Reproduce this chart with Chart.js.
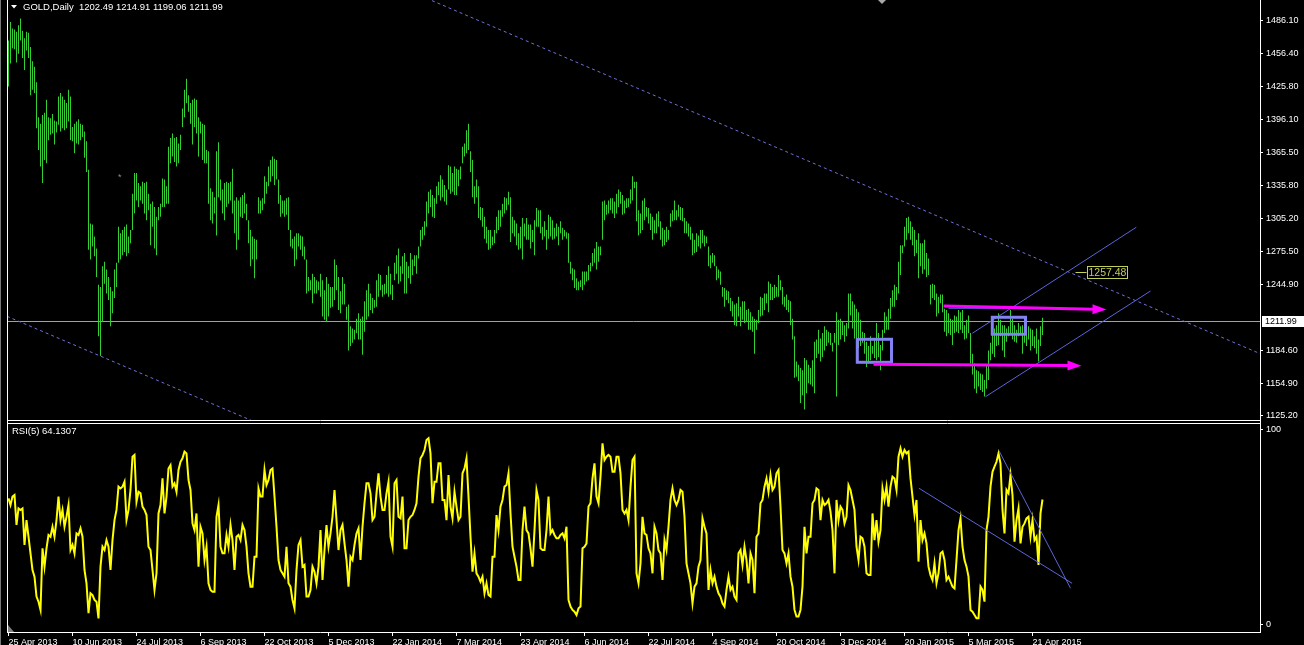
<!DOCTYPE html>
<html>
<head>
<meta charset="utf-8">
<title>GOLD, Daily</title>
<style>
  html, body { margin: 0; padding: 0; background: #000; }
  #wrap { position: relative; width: 1304px; height: 645px; overflow: hidden; background: #000; }
  #wrap canvas { position: absolute; left: 0; }
  #price { top: 0; }
  #osc { top: 421px; }
</style>
<script src="https://cdn.jsdelivr.net/npm/chart.js@4.4.1/dist/chart.umd.min.js"></script>
</head>
<body>
<div id="wrap">
  <canvas id="price" width="1304" height="421"></canvas>
  <canvas id="osc" width="1304" height="224"></canvas>
</div>
<script>
// ---- values (bar index 0 = 25 Apr 2013) ----
const dateLabels = ['25 Apr 2013', '10 Jun 2013', '24 Jul 2013', '6 Sep 2013', '22 Oct 2013', '5 Dec 2013',
  '22 Jan 2014', '7 Mar 2014', '23 Apr 2014', '6 Jun 2014', '22 Jul 2014', '4 Sep 2014', '20 Oct 2014',
  '3 Dec 2014', '20 Jan 2015', '5 Mar 2015', '21 Apr 2015']
const dateTickBars = [0, 32, 64, 96, 128, 160, 192, 224, 256, 288, 320, 352, 384, 416, 448, 480, 512]
const priceTicks = [1486.10, 1456.40, 1425.80, 1396.10, 1365.50, 1335.80, 1305.20, 1275.50, 1244.90, 1184.60, 1154.90, 1125.20]
const rsiTicks = [0, 100]
const lastQuote = [1202.49, 1214.91, 1199.06, 1211.99] // open high low close

const highs = [
  1468, 1485, 1479, 1478, 1476, 1482, 1488, 1477, 1470, 1476,
  1475, 1462, 1449, 1444, 1430, 1398, 1392, 1400, 1402, 1414,
  1398, 1397, 1401, 1395, 1394, 1417, 1420, 1417, 1414, 1411,
  1423, 1417, 1389, 1392, 1394, 1396, 1392, 1391, 1385, 1376,
  1350, 1301, 1300, 1289, 1278, 1245, 1243, 1262, 1266, 1259,
  1252, 1243, 1239, 1259, 1265, 1298, 1292, 1295, 1298, 1300,
  1289, 1295, 1328, 1347, 1347, 1338, 1335, 1339, 1338, 1339,
  1328, 1319, 1321, 1316, 1307, 1316, 1319, 1342, 1341, 1335,
  1371, 1379, 1383, 1379, 1380, 1374, 1382, 1406, 1423, 1433,
  1418, 1411, 1414, 1415, 1414, 1398, 1394, 1392, 1391, 1368,
  1367, 1333, 1330, 1325, 1367, 1375, 1341, 1332, 1338, 1339,
  1338, 1339, 1351, 1322, 1325, 1322, 1325, 1327, 1329, 1319,
  1304, 1295, 1289, 1287, 1286, 1325, 1322, 1324, 1344, 1339,
  1353, 1359, 1362, 1360, 1359, 1341, 1327, 1322, 1322, 1324,
  1325, 1295, 1287, 1289, 1292, 1292, 1290, 1289, 1280, 1268,
  1252, 1249, 1255, 1252, 1249, 1248, 1255, 1249, 1240, 1252,
  1246,
  1243, 1243, 1268, 1263, 1252, 1239, 1252, 1246, 1225, 1227,
  1207, 1205, 1204, 1214, 1219, 1214, 1216, 1230, 1240, 1246,
  1237, 1233, 1231, 1249, 1255, 1254, 1245, 1246, 1254, 1262,
  1255, 1245, 1265, 1272, 1278, 1262, 1271, 1274, 1266, 1262,
  1274, 1268, 1272, 1272, 1280, 1295, 1298, 1303, 1321, 1330,
  1332, 1327, 1324, 1335, 1339, 1345, 1341, 1336, 1332, 1354,
  1353, 1347, 1353, 1351, 1350, 1353, 1371, 1374, 1386, 1392,
  1367, 1359, 1335, 1341, 1335, 1316, 1315, 1307, 1298, 1295,
  1295, 1289, 1295, 1307, 1313, 1313, 1319, 1325, 1324, 1330,
  1325, 1307, 1304, 1301, 1292, 1298, 1306, 1301, 1306, 1300,
  1300, 1295, 1304, 1315, 1313, 1313, 1298, 1303, 1295, 1309,
  1307, 1304, 1297, 1301, 1298, 1303, 1297, 1295, 1293, 1292,
  1266, 1260, 1259, 1251, 1248, 1249, 1257, 1257, 1257, 1263,
  1265, 1274, 1278, 1284, 1280, 1280, 1321, 1322, 1318, 1322,
  1324, 1324, 1321, 1328, 1332, 1330, 1327, 1322, 1324, 1324,
  1332, 1344, 1339, 1339, 1313, 1310, 1322, 1324, 1316, 1315,
  1310, 1307, 1304, 1310, 1312, 1303, 1297, 1295, 1298, 1295,
  1310, 1313, 1322, 1313, 1318, 1316, 1315, 1306, 1303, 1301,
  1298, 1292, 1286, 1292, 1290, 1295, 1295, 1290, 1289, 1280,
  1272, 1274, 1272, 1262, 1259, 1257, 1243, 1242, 1240, 1239,
  1233, 1230, 1227, 1228, 1234, 1225, 1230, 1230, 1222, 1223,
  1220, 1216, 1214, 1213, 1222, 1234, 1233, 1237, 1237, 1248,
  1246, 1243, 1245, 1243, 1254, 1249, 1243, 1234, 1236, 1231,
  1230, 1214, 1198, 1175, 1172, 1169, 1167, 1178, 1176, 1172,
  1169, 1176, 1193, 1195, 1204, 1196, 1201, 1207, 1204, 1202,
  1201, 1192, 1201, 1220, 1213, 1214, 1211, 1208, 1210, 1237,
  1237, 1230, 1227, 1223, 1220, 1213, 1202, 1201, 1193, 1189,
  1198, 1189, 1196, 1210, 1201, 1190, 1204, 1220, 1216, 1223,
  1233, 1240, 1245, 1243, 1266, 1281, 1281, 1298, 1306, 1307,
  1303, 1298, 1295, 1286, 1292, 1283, 1283, 1286, 1274, 1269,
  1245, 1246, 1245, 1237, 1234, 1236, 1236, 1223, 1222, 1219,
  1214, 1213, 1217, 1216, 1222, 1220, 1222, 1208, 1213, 1217,
  1201, 1182, 1173, 1167, 1166, 1164, 1163, 1158, 1172, 1185,
  1192, 1199, 1205, 1208, 1219, 1213, 1208, 1208, 1205, 1207,
  1222, 1214, 1208, 1204, 1210, 1207, 1208, 1207, 1201, 1207,
  1205, 1204, 1198, 1205, 1195, 1207, 1214.91
]

const lows = [
  1426, 1447, 1461, 1460, 1448, 1456, 1468, 1452, 1441, 1459,
  1452, 1418, 1423, 1420, 1388, 1368, 1353, 1338, 1359, 1356,
  1377, 1382, 1383, 1373, 1384, 1391, 1385, 1388, 1386, 1388,
  1394, 1377, 1376, 1365, 1374, 1373, 1377, 1380, 1361, 1348,
  1277, 1268, 1280, 1271, 1252, 1198, 1180, 1211, 1246, 1237,
  1231, 1207, 1219, 1233, 1243, 1265, 1268, 1272, 1275, 1271,
  1274, 1283, 1295, 1310, 1322, 1316, 1322, 1319, 1310, 1304,
  1313, 1281, 1298, 1278, 1272, 1304, 1307, 1316, 1316, 1319,
  1319, 1356, 1362, 1357, 1353, 1356, 1368, 1389, 1398, 1411,
  1403, 1392, 1373, 1389, 1383, 1362, 1383, 1359, 1356, 1356,
  1319, 1304, 1301, 1310, 1290, 1325, 1322, 1310, 1304, 1316,
  1319, 1322, 1310, 1292, 1277, 1286, 1307, 1306, 1310, 1304,
  1283, 1262, 1268, 1251, 1268, 1310, 1310, 1313, 1319, 1328,
  1335, 1339, 1344, 1336, 1341, 1319, 1307, 1310, 1307, 1309,
  1295, 1280, 1278, 1262, 1268, 1280, 1277, 1271, 1268, 1237,
  1239, 1240, 1228, 1237, 1237, 1240, 1234, 1216, 1213, 1211,
  1216,
  1224, 1225, 1231, 1240, 1222, 1219, 1227, 1227, 1213, 1185,
  1189, 1192, 1195, 1201, 1195, 1195, 1181, 1202, 1213, 1216,
  1222, 1219, 1224, 1225, 1234, 1240, 1234, 1236, 1237, 1234,
  1236, 1231, 1249, 1255, 1246, 1248, 1255, 1237, 1237, 1251,
  1246, 1254, 1262, 1255, 1269, 1280, 1286, 1290, 1298, 1310,
  1316, 1307, 1306, 1319, 1327, 1322, 1325, 1321, 1318, 1332,
  1328, 1330, 1327, 1327, 1335, 1341, 1356, 1362, 1365, 1368,
  1348, 1325, 1319, 1325, 1306, 1304, 1298, 1287, 1283, 1277,
  1278, 1281, 1283, 1292, 1295, 1298, 1307, 1310, 1313, 1318,
  1284, 1292, 1289, 1281, 1277, 1278, 1268, 1289, 1286, 1286,
  1278, 1284, 1272, 1298, 1298, 1292, 1286, 1289, 1277, 1287,
  1289, 1286, 1287, 1289, 1281, 1292, 1286, 1289, 1287, 1265,
  1255, 1249, 1242, 1240, 1240, 1243, 1240, 1245, 1248, 1249,
  1257, 1262, 1265, 1259, 1266, 1272, 1286, 1304, 1309, 1310,
  1313, 1310, 1306, 1310, 1316, 1319, 1309, 1310, 1315, 1316,
  1319, 1322, 1333, 1303, 1290, 1292, 1295, 1304, 1307, 1301,
  1295, 1286, 1292, 1292, 1298, 1286, 1280, 1281, 1284, 1286,
  1298, 1303, 1304, 1304, 1307, 1304, 1303, 1292, 1292, 1289,
  1286, 1272, 1274, 1275, 1280, 1278, 1283, 1280, 1283, 1262,
  1260, 1265, 1262, 1249, 1251, 1245, 1234, 1225, 1231, 1228,
  1221, 1216, 1208, 1207, 1216, 1207, 1213, 1210, 1211, 1204,
  1204, 1202, 1182, 1204, 1210, 1216, 1217, 1222, 1228, 1220,
  1231, 1231, 1233, 1234, 1234, 1240, 1227, 1225, 1222, 1220,
  1208, 1195, 1160, 1161, 1157, 1137, 1144, 1131, 1146, 1155,
  1154, 1152, 1146, 1178, 1182, 1175, 1179, 1185, 1189, 1192,
  1190, 1184, 1192, 1143, 1190, 1195, 1199, 1193, 1198, 1205,
  1217, 1205, 1196, 1182, 1187, 1189, 1192, 1182, 1170, 1173,
  1176, 1182, 1178, 1176, 1179, 1167, 1185, 1201, 1204, 1204,
  1214, 1225, 1225, 1231, 1237, 1254, 1274, 1280, 1286, 1292,
  1286, 1281, 1271, 1274, 1251, 1262, 1255, 1259, 1252, 1254,
  1227, 1233, 1231, 1216, 1219, 1228, 1220, 1202, 1198, 1201,
  1199, 1190, 1201, 1202, 1201, 1204, 1201, 1195, 1196, 1201,
  1173, 1163, 1150, 1146, 1152, 1149, 1147, 1143, 1150, 1158,
  1176, 1182, 1179, 1189, 1190, 1198, 1185, 1179, 1193, 1198,
  1201, 1195, 1193, 1192, 1198, 1199, 1182, 1192, 1189, 1195,
  1185, 1189, 1187, 1182, 1175, 1189, 1199.06
]

const rsi = [
  64.7, 61.3, 65.6, 66.4, 51.1, 59.6, 58.8, 59.6, 40.9, 53.6,
  45.1, 36.6, 28.1, 24.7, 14.5, 11.9, 7.7, 39.2, 29.8, 39.2,
  46, 45.1, 50.2, 45.1, 53.6, 65.6, 53.6, 58.8, 50.2, 55.3,
  61.3, 38.3, 40.9, 36.6, 46.8, 46, 49.4, 45.1, 28.1, 21.3,
  6, 16.2, 15.3, 12.8, 11.9, 3.4, 29.8, 40, 38.3, 43.4,
  40, 28.1, 43.4, 53.6, 58.8, 70.7, 69.8, 70.7, 73.2, 53.6,
  58.8, 69, 86, 86.9, 63, 68.1, 67.3, 60.5, 58.8, 56.2,
  40, 38.3, 28.1, 17.9, 26.4, 57, 61.3, 74.9, 57, 65.6,
  80, 81.7, 70.7, 72.4, 68.1, 79.2, 83.4, 85.2, 88.6, 87.7,
  74.1, 69, 51.9, 48.5, 57, 29.8, 50.2, 46.8, 33.2, 40,
  21.3, 17.9, 17, 17, 55.3, 61.3, 40, 36.6, 36.6, 46,
  40, 51.1, 43.4, 28.1, 45.1, 46, 43.4, 51.1, 48.5, 40,
  26.4, 19.6, 19.6, 34.9, 34.9, 69.8, 65.6, 65.6, 79.2, 71.5,
  74.1, 79.2, 80, 65.6, 50.2, 33.2, 28.1, 26.4, 24.7, 40,
  21.3, 19.6, 12.8, 8.5, 28.1, 40.9, 43.4, 29.8, 30.7, 14.5,
  14.5, 17.9, 29.8, 27.2, 21.3, 29.8, 48.5, 23, 38.3, 51.1,
  40,
  46.8, 55.3, 69, 53.6, 38.3, 48.5, 51.1, 41.7, 33.2, 19.6,
  34.9, 33.2, 40.9, 46.8, 49.4, 33.2, 50.2, 62.2, 72.4, 72.4,
  67.3, 53.6, 55.3, 67.3, 77.5, 65.6, 58.8, 58.8, 67.3, 73.2,
  45.1, 40, 72.4, 74.1, 55.3, 54.5, 65.6, 39.2, 39.2, 53.6,
  55.3, 56.2, 58.8, 62.2, 75.8, 85.2, 86.9, 89.4, 94.5, 95.4,
  87.7, 62.2, 73.2, 73.2, 82.6, 82.6, 63.9, 63.9, 53.6, 76.6,
  60.5, 54.5, 68.1, 60.5, 53.6, 55.3, 77.5, 80, 85.2, 65.6,
  45.1, 27.2, 36.6, 26.4, 24.7, 22.1, 24.7, 16.2, 21.3, 15.3,
  14.5, 34.9, 34.9, 56.2, 48.5, 60.5, 63.9, 70.7, 71.5, 77.5,
  57, 40, 34.9, 29.8, 23, 23, 48.5, 60.5, 48.5, 46.8,
  39.2, 29.8, 48.5, 69, 63.9, 39.2, 38.3, 38.3, 48.5, 65.6,
  46.8, 48.5, 46, 44.3, 44.3, 46, 46.8, 44.3, 50.2, 12.8,
  9.4, 7.7, 6.8, 5.1, 8.5, 9.4, 39.2, 40, 41.7, 60.5,
  62.2, 74.9, 82.6, 65.6, 62.2, 75.8, 92.8, 84.3, 86, 86.9,
  86, 78.3, 78.3, 86, 86, 77.5, 58.8, 57, 58.8, 53.6,
  70.7, 84.3, 86, 26.4, 21.3, 31.5, 55.3, 46.8, 46, 39.2,
  36.6, 26.4, 50.2, 46.8, 38.3, 36.6, 23, 43.4, 38.3, 50.2,
  63.9, 69.8, 63.9, 61.3, 63.9, 69, 68.1, 55.3, 31.5, 26.4,
  21.3, 11.1, 19.6, 21.3, 29.8, 33.2, 54.5, 50.2, 46.8, 17.9,
  28.1, 21.3, 24.7, 19.6, 16.2, 14.5, 11.1, 9.4, 17.9, 24.7,
  17.9, 19.6, 14.5, 12.8, 36.6, 38.3, 30.7, 40, 33.2, 21.3,
  36.6, 33.2, 16.2, 45.1, 46.8, 62.2, 63.9, 70.7, 74.9, 68.1,
  76.6, 69, 70.7, 77.5, 79.2, 60.5, 38.3, 36.6, 31.5, 36.6,
  24.7, 19.6, 7.7, 4.3, 4.3, 7.7, 19.6, 50.2, 36.6, 45.1,
  45.1, 62.2, 63.9, 69.8, 69, 53.6, 63.9, 61.3, 62.2, 63.9,
  57.9, 48.5, 26.4, 63.9, 53.6, 60.5, 58.8, 51.9, 55.3, 71.5,
  69, 63.9, 58.8, 40, 33.2, 45.1, 44.3, 40, 26.4, 25.5,
  25.5, 57, 43.4, 53.6, 42.6, 48.5, 69.8, 63.9, 70.7, 60.5,
  70.7, 75.8, 74.9, 69, 86, 90.3, 86, 89.4, 87.7, 88.6,
  74.9, 65.6, 56.2, 63.9, 32.4, 53.6, 43.4, 46.8, 41.7, 29.8,
  25.5, 23, 31.5, 21.3, 26.4, 36.6, 37.5, 33.2, 23, 24.7,
  22.1, 19.6, 18.7, 33.2, 48.5, 54.5, 40, 33.2, 29.8, 24.7,
  7.7, 6.8, 5.1, 3.4, 3.4, 19.6, 17.9, 11.9, 48.5, 55.3,
  70.7, 78.3, 80.9, 83.4, 87.7, 82.6, 58.8, 46.8, 69, 67.3,
  76.6, 66.4, 42.6, 53.6, 59.6, 41.7, 50.2, 51.9, 54.5, 55.3,
  45.1, 53.6, 43.4, 45.1, 30.7, 57, 64.1307
]

// drawn objects, anchored at [bar index, price] / [bar index, rsi]
const dottedTrends = [[[211, 1505.0], [625, 1182.7]], [[0, 1215.6], [118.5, 1123.4]]]
const channelLines = [[[481.9, 1200.7], [563.9, 1297.5]], [[488.5, 1142.8], [571, 1239.3]]]
const thinLines = [[[470, 1223.5], [501, 1223.5]]]
const boxes = [[[424.4, 1195.2], [441.5, 1174.2]], [[491.9, 1215.3], [508.5, 1199.8]]]
const arrows = [[[467.5, 1225.6], [549, 1222.4]], [[432.5, 1172.4], [536.5, 1171.1]]]
const priceTag = [533.5, 1257.48]
const rsiTrends = [[[495.2, 89.1], [531, 18.8]], [[455.2, 69.9], [531.8, 21.3]]]

const X_MIN = -0.75
const X_MAX = 625.75
const FAMILY = '"Liberation Sans", Arial, sans-serif'
const font = (s) => s + 'px ' + FAMILY

const seg = (ctx, x1, y1, x2, y2) => {
  ctx.beginPath()
  ctx.moveTo(x1, y1)
  ctx.lineTo(x2, y2)
  ctx.stroke()
}

const arrow = (ctx, x1, y1, x2, y2) => {
  const ang = Math.atan2(y2 - y1, x2 - x1)
  const hl = 14
  const hw = 5
  const bx = x2 - hl * Math.cos(ang)
  const by = y2 - hl * Math.sin(ang)
  ctx.lineWidth = 3
  seg(ctx, x1, y1, bx + 1, by)
  ctx.beginPath()
  ctx.moveTo(x2, y2)
  ctx.lineTo(bx + hw * Math.sin(ang), by - hw * Math.cos(ang))
  ctx.lineTo(bx - hw * Math.sin(ang), by + hw * Math.cos(ang))
  ctx.closePath()
  ctx.fill()
}

const fixWidth = (s) => { s.width = 44; s.paddingTop = 0; s.paddingBottom = 0 }

const priceOverlay = {
  id: 'priceOverlay',
  beforeDatasetsDraw (chart) {
    const { ctx, chartArea: a, scales: { y } } = chart
    const cy = Math.round(y.getPixelForValue(lastQuote[3])) + 0.5
    ctx.save()
    ctx.strokeStyle = '#a0a0aa'
    ctx.lineWidth = 1
    seg(ctx, a.left, cy, a.right, cy)
    ctx.restore()
  },
  afterDatasetsDraw (chart) {
    const { ctx, chartArea: a, scales: { x, y } } = chart
    const P = (pt) => [x.getPixelForValue(pt[0]), y.getPixelForValue(pt[1])]

    ctx.save()
    ctx.beginPath()
    ctx.rect(a.left, a.top, a.right - a.left, a.bottom - a.top)
    ctx.clip()

    // dotted trend lines run across the whole window
    ctx.strokeStyle = '#7070d8'
    ctx.lineWidth = 1
    ctx.setLineDash([3, 3])
    dottedTrends.forEach(([p1, p2]) => {
      const A = P(p1)
      const B = P(p2)
      const k = (B[1] - A[1]) / (B[0] - A[0])
      seg(ctx, a.left, A[1] + k * (a.left - A[0]), a.right, A[1] + k * (a.right - A[0]))
    })
    ctx.setLineDash([])

    ctx.strokeStyle = '#5b64dc'
    channelLines.concat(thinLines).forEach(([p1, p2]) => {
      const A = P(p1)
      const B = P(p2)
      seg(ctx, A[0], A[1], B[0], B[1])
    })

    ctx.strokeStyle = '#8282f2'
    ctx.lineWidth = 3
    boxes.forEach(([p1, p2]) => {
      const A = P(p1)
      const B = P(p2)
      ctx.strokeRect(A[0], A[1], B[0] - A[0], B[1] - A[1])
    })

    ctx.strokeStyle = '#ff00ff'
    ctx.fillStyle = '#ff00ff'
    arrows.forEach(([p1, p2]) => {
      const A = P(p1)
      const B = P(p2)
      arrow(ctx, A[0], A[1], B[0], B[1])
    })

    // price label object
    const T = P(priceTag)
    const ty = Math.round(T[1]) + 1.5
    ctx.strokeStyle = '#c3cf58'
    ctx.fillStyle = '#c3cf58'
    ctx.lineWidth = 1
    seg(ctx, T[0], ty, T[0] + 11, ty)
    ctx.strokeRect(Math.round(T[0]) + 11.5, ty - 6, 40, 12)
    ctx.font = font(10.5)
    ctx.textBaseline = 'middle'
    ctx.textAlign = 'left'
    ctx.fillText(priceTag[1].toFixed(2), T[0] + 13, ty + 0.5)
    ctx.restore()

    ctx.save()
    // frame
    ctx.strokeStyle = '#ffffff'
    ctx.lineWidth = 1
    seg(ctx, a.left + 0.5, 0, a.left + 0.5, 421)
    seg(ctx, a.right + 0.5, 0, a.right + 0.5, 421)
    seg(ctx, a.left, a.bottom + 0.5, a.right + 1, a.bottom + 0.5)
    ctx.strokeStyle = '#777777'
    seg(ctx, 0.5, 0, 0.5, 421)

    // current price tag on the axis
    const cy = Math.round(y.getPixelForValue(lastQuote[3]))
    ctx.fillStyle = '#ffffff'
    ctx.fillRect(a.right + 2, cy - 5, 42, 11)
    ctx.fillStyle = '#000000'
    ctx.font = font(9)
    ctx.textBaseline = 'middle'
    ctx.textAlign = 'left'
    ctx.fillText(lastQuote[3].toFixed(2), a.right + 5, cy + 0.5)

    // title line
    ctx.fillStyle = '#ffffff'
    ctx.beginPath()
    ctx.moveTo(11, 5)
    ctx.lineTo(17, 5)
    ctx.lineTo(14, 8.5)
    ctx.closePath()
    ctx.fill()
    ctx.font = font(9.5)
    ctx.fillText('GOLD,Daily  ' + lastQuote.map(v => v.toFixed(2)).join(' '), 23, 7)

    // small markers
    ctx.font = font(9)
    ctx.fillStyle = '#8a8a8a'
    ctx.fillText('*', 118, 178)
    ctx.fillStyle = '#a8a8a8'
    ctx.beginPath()
    ctx.moveTo(878, 0)
    ctx.lineTo(886, 0)
    ctx.lineTo(882, 4)
    ctx.closePath()
    ctx.fill()
    ctx.restore()
  }
}

const rsiOverlay = {
  id: 'rsiOverlay',
  afterDatasetsDraw (chart) {
    const { ctx, chartArea: a, scales: { x, y } } = chart
    const P = (pt) => [x.getPixelForValue(pt[0]), y.getPixelForValue(pt[1])]
    ctx.save()
    ctx.beginPath()
    ctx.rect(a.left, a.top, a.right - a.left, a.bottom - a.top)
    ctx.clip()
    ctx.strokeStyle = '#5b66d8'
    ctx.lineWidth = 1
    rsiTrends.forEach(([p1, p2]) => {
      const A = P(p1)
      const B = P(p2)
      seg(ctx, A[0], A[1], B[0], B[1])
    })
    ctx.restore()

    ctx.save()
    ctx.strokeStyle = '#ffffff'
    ctx.lineWidth = 1
    seg(ctx, a.left + 0.5, 0, a.left + 0.5, a.bottom + 1)
    seg(ctx, a.right + 0.5, 0, a.right + 0.5, a.bottom + 1)
    seg(ctx, a.left, a.top + 0.5, a.right + 1, a.top + 0.5)
    seg(ctx, a.left, a.bottom + 0.5, a.right + 1, a.bottom + 0.5)
    ctx.strokeStyle = '#777777'
    seg(ctx, 0.5, 0, 0.5, 224)

    ctx.fillStyle = '#808080'
    ctx.beginPath()
    ctx.moveTo(a.left + 1, a.bottom - 7)
    ctx.lineTo(a.left + 1, a.bottom)
    ctx.lineTo(a.left + 7, a.bottom)
    ctx.closePath()
    ctx.fill()

    ctx.fillStyle = '#ffffff'
    ctx.font = font(9.5)
    ctx.textBaseline = 'middle'
    ctx.textAlign = 'left'
    ctx.fillText('RSI(5) ' + rsi[rsi.length - 1], 12, 10)
    ctx.restore()
  }
}

Chart.defaults.font.family = FAMILY
Chart.defaults.font.size = 9

const commonPlugins = { legend: { display: false }, tooltip: { enabled: false } }

new Chart(document.getElementById('price'), {
  type: 'bar',
  data: {
    datasets: [{
      data: highs.map((h, i) => ({ x: i, y: [lows[i], h] })),
      backgroundColor: '#33cf33',
      borderWidth: 0,
      barThickness: 1,
      inflateAmount: 0,
      grouped: false
    }]
  },
  options: {
    responsive: false,
    animation: false,
    devicePixelRatio: 1,
    events: [],
    layout: { padding: { left: 7, right: 0, top: 0, bottom: 1 } },
    plugins: commonPlugins,
    scales: {
      x: { type: 'linear', display: false, min: X_MIN, max: X_MAX, offset: false },
      y: {
        position: 'right',
        min: 1121.5,
        max: 1505,
        afterBuildTicks: (s) => { s.ticks = priceTicks.map(v => ({ value: v })) },
        afterFit: fixWidth,
        grid: { drawOnChartArea: false, drawTicks: true, tickLength: 3, color: '#ffffff' },
        border: { display: false },
        ticks: { color: '#ffffff', padding: 3, callback: (v) => Number(v).toFixed(2) }
      }
    }
  },
  plugins: [priceOverlay]
})

new Chart(document.getElementById('osc'), {
  type: 'line',
  data: {
    datasets: [{
      data: rsi.map((v, i) => ({ x: i, y: v })),
      borderColor: '#ffff00',
      borderWidth: 2,
      pointRadius: 0,
      tension: 0,
      fill: false
    }]
  },
  options: {
    responsive: false,
    animation: false,
    devicePixelRatio: 1,
    events: [],
    layout: { padding: { left: 7, right: 0, top: 2, bottom: 0 } },
    plugins: commonPlugins,
    scales: {
      x: {
        type: 'linear',
        min: X_MIN,
        max: X_MAX,
        offset: false,
        afterBuildTicks: (s) => { s.ticks = dateTickBars.map(v => ({ value: v })) },
        afterFit: (s) => { s.height = 13; s.paddingLeft = 0; s.paddingRight = 0 },
        grid: { drawOnChartArea: false, drawTicks: true, tickLength: 4, color: '#ffffff' },
        border: { display: false },
        ticks: {
          color: '#ffffff',
          align: 'start',
          padding: 1,
          autoSkip: false,
          maxRotation: 0,
          callback: (v, i) => dateLabels[i]
        }
      },
      y: {
        position: 'right',
        min: -3.58,
        max: 103.22,
        afterBuildTicks: (s) => { s.ticks = rsiTicks.map(v => ({ value: v })) },
        afterFit: fixWidth,
        grid: { drawOnChartArea: false, drawTicks: true, tickLength: 3, color: '#ffffff' },
        border: { display: false },
        ticks: { color: '#ffffff', padding: 3, callback: (v) => String(v) }
      }
    }
  },
  plugins: [rsiOverlay]
})
</script>
</body>
</html>
